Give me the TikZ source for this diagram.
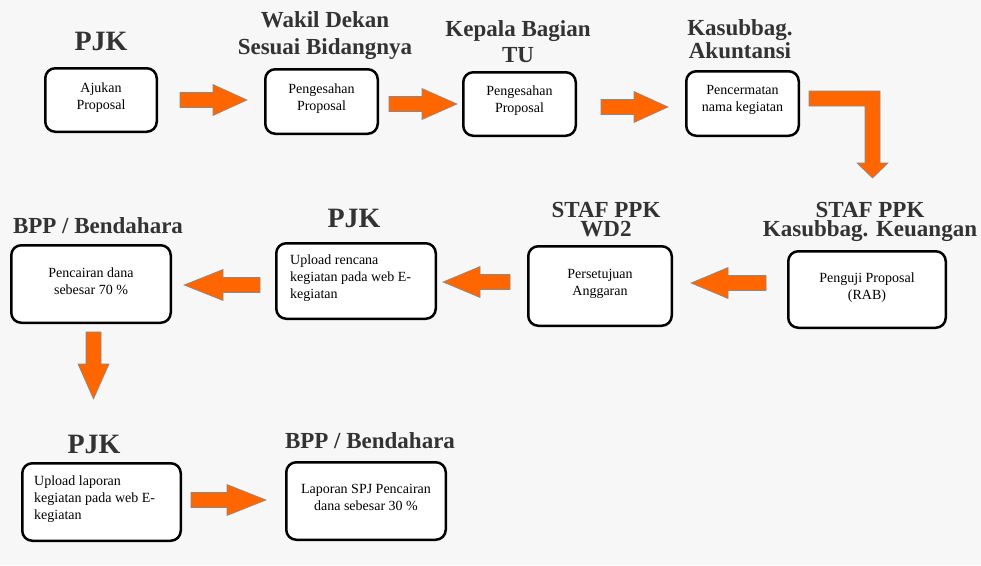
\documentclass[tikz,border=0pt]{standalone}
\usepackage{fontspec}
\setmainfont{Liberation Serif}
\usetikzlibrary{positioning,calc}

\definecolor{bgcol}{HTML}{F7F7F7}
\definecolor{headcol}{HTML}{333333}
\definecolor{arroworange}{HTML}{FF6600}
\definecolor{arrowedge}{HTML}{8A8A8A}

\tikzset{
  stepbox/.style={draw=black, line width=2.5pt, fill=white, rounded corners=10pt, inner sep=0pt},
  boxtext/.style={font=\fontsize{14}{17}\selectfont, align=center, anchor=base, inner sep=0pt},
  boxtextleft/.style={boxtext, align=left, anchor=base west},
  role/.style={font=\bfseries\fontsize{23}{27}\selectfont, text=headcol, align=center, anchor=base, inner sep=0pt},
  bigrole/.style={role, font=\bfseries\fontsize{28}{30}\selectfont},
  fatarrow/.style={fill=arroworange, draw=arrowedge, line width=0.6pt},
}

% block arrow: tail, tip, head length
\newcommand{\blockarrow}[3]{%
  \path[fatarrow] let \p1=#1, \p2=#2,
    \n1={atan2(\y2-\y1,\x2-\x1)}, \n2={veclen(\x2-\x1,\y2-\y1)} in
    [shift={(\p1)}, rotate=\n1]
    (0,-7.5) -- ({\n2-#3},-7.5) -- ({\n2-#3},-15.5) -- (\n2,0)
    -- ({\n2-#3},15.5) -- ({\n2-#3},7.5) -- (0,7.5) -- cycle;}

\begin{document}
\begin{tikzpicture}[x=1pt, y=-1pt]
    \fill[bgcol] (0,0) rectangle (981,565);
    \useasboundingbox (0,0) rectangle (981,565);

    % first row (text nodes sit on the baseline of their last line)
    \node[bigrole] (r1) at (101,50) {PJK};
    \node[stepbox, minimum width=111.5pt, minimum height=63.5pt] (b1) at (101,100) {};
    \node[boxtext] (t1) at (101,109) {Ajukan\\Proposal};

    \node[role] (r2) at (325,54) {Wakil Dekan\\Sesuai Bidangnya};
    \node[stepbox, minimum width=112.5pt, minimum height=64.5pt] (b2) at (321.5,101.5) {};
    \node[boxtext] (t2) at (321.5,110) {Pengesahan\\Proposal};

    \node[role, font=\bfseries\fontsize{23}{26}\selectfont] (r3) at (518,62) {Kepala Bagian\\TU};
    \node[stepbox, minimum width=112.5pt, minimum height=63.5pt] (b3) at (519.5,104) {};
    \node[boxtext] (t3) at (519.5,112) {Pengesahan\\Proposal};

    \node[role, font=\bfseries\fontsize{23}{19}\selectfont] (r4) at (740,58) {Kasubbag.\\Akuntansi};
    \node[stepbox, minimum width=112.5pt, minimum height=64.5pt] (b4) at (742.5,103.5) {};
    \node[boxtext] (t4) at (742.5,111) {Pencermatan\\nama kegiatan};

    % second row
    \node[role, font=\bfseries\fontsize{23}{19}\selectfont] (r5) at (870,236) {STAF PPK\\Kasubbag. Keuangan};
    \node[stepbox, minimum width=157.5pt, minimum height=76.5pt] (c4) at (867,289.5) {};
    \node[boxtext] (s4) at (867,299) {Penguji Proposal\\(RAB)};

    \node[role, font=\bfseries\fontsize{23}{19}\selectfont] (r6) at (606,236) {STAF PPK\\WD2};
    \node[stepbox, minimum width=143.5pt, minimum height=79.5pt] (c3) at (600,286) {};
    \node[boxtext] (s3) at (600,295) {Persetujuan\\Anggaran};

    \node[bigrole] (r7) at (354,227) {PJK};
    \node[stepbox, minimum width=159.5pt, minimum height=75.5pt] (c2) at (356,281) {};
    \node[boxtextleft] (s2) at (290,298) {Upload rencana\\kegiatan pada web E-\\kegiatan};

    \node[role] (r8) at (98,233) {BPP / Bendahara};
    \node[stepbox, minimum width=159.5pt, minimum height=77.5pt] (c1) at (91,284) {};
    \node[boxtext] (s1) at (91,294) {Pencairan dana\\sebesar 70 \%};

    % third row
    \node[bigrole] (r9) at (94,453) {PJK};
    \node[stepbox, minimum width=158.5pt, minimum height=77.5pt] (d1) at (101.5,502) {};
    \node[boxtextleft] (u1) at (34,519) {Upload laporan\\kegiatan pada web E-\\kegiatan};

    \node[role] (r10) at (370,448) {BPP / Bendahara};
    \node[stepbox, minimum width=159.5pt, minimum height=77.5pt] (d2) at (366,501) {};
    \node[boxtext] (u2) at (366,510) {Laporan SPJ Pencairan\\dana sebesar 30 \%};

    % arrows
    \blockarrow{($(b1.east)+(22,0)$)}{($(b2.west |- b1.east)+(-17,0)$)}{34}
    \blockarrow{($(b2.east |- b3.west)+(10,0)$)}{($(b3.west)+(-5,0)$)}{35}
    \blockarrow{($(b3.east)+(24,3)$)}{($(b4.west |- b3.east)+(-17,3)$)}{34}
    \begin{scope}[shift={(b4.east)}]
        \path[fatarrow] (9,-12.5) -- (80,-12.5) -- (80,59.5) -- (88,59.5) -- (72.5,74.5)
            -- (57,59.5) -- (65,59.5) -- (65,2.5) -- (9,2.5) -- cycle;
    \end{scope}
    \blockarrow{($(c4.west)+(-21,-6.5)$)}{($(c3.east |- c4.west)+(18,-6.5)$)}{37}
    \blockarrow{($(c3.west)+(-17,-4)$)}{($(c2.east |- c3.west)+(6,-4)$)}{37}
    \blockarrow{($(c2.west)+(-15,4)$)}{($(c1.east |- c2.west)+(12,4)$)}{39}
    \blockarrow{($(c1.south)+(2.5,8)$)}{($(d1.north)+(-8,-63)$)}{35}
    \blockarrow{($(d1.east)+(9,-2)$)}{($(d2.west |- d1.east)+(-19,-2)$)}{39}
\end{tikzpicture}
\end{document}
